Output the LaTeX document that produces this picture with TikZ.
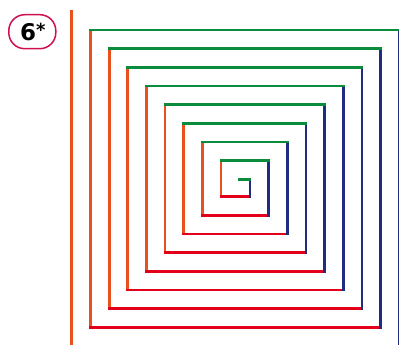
\documentclass[tikz,border=0pt]{standalone}
\usepackage{fontspec}
\newfontfamily\labelfont{DejaVu Sans}
\definecolor{sporange}{HTML}{E8501E}
\definecolor{spgreen}{HTML}{0B8C3C}
\definecolor{spblue}{HTML}{1E2C82}
\definecolor{spred}{HTML}{E2001A}
\definecolor{tagborder}{HTML}{D0104C}
\tikzset{
  seg/.style={line width=2.8pt, line cap=rect},
  tag/.style={draw=tagborder, line width=1.5pt, rounded corners=16pt, minimum width=47pt, minimum height=34pt, inner sep=0pt, font=\labelfont\bfseries\fontsize{23}{23}\selectfont}
}
\begin{document}
\begin{tikzpicture}[x=1pt,y=-1pt]
\useasboundingbox (0,0) rectangle (399,345);
\node[tag] (label) at (32.3,31.7) {\kern1pt6\raisebox{4pt}{\fontsize{18}{18}\selectfont*}};
\foreach \k in {0,...,8}{
  \pgfmathsetmacro{\gl}{239.65-18.65*\k}
  \pgfmathsetmacro{\yt}{179.3-18.65*\k}
  \pgfmathsetmacro{\rx}{250+18.65*\k}
  \pgfmathsetmacro{\yb}{196.7+18.65*\k}
  \pgfmathsetmacro{\lx}{221-18.65*\k}
  \pgfmathsetmacro{\yn}{160.65-18.65*\k}
  \draw[seg, sporange] (\lx,\yb) -- (\lx,\yn);
  \draw[seg, spred] (\rx,\yb) -- (\lx,\yb);
  \draw[seg, spblue] (\rx,\yt) -- (\rx,\yb);
  \draw[seg, spgreen] (\gl,\yt) -- (\rx,\yt);
}
\end{tikzpicture}
\end{document}
